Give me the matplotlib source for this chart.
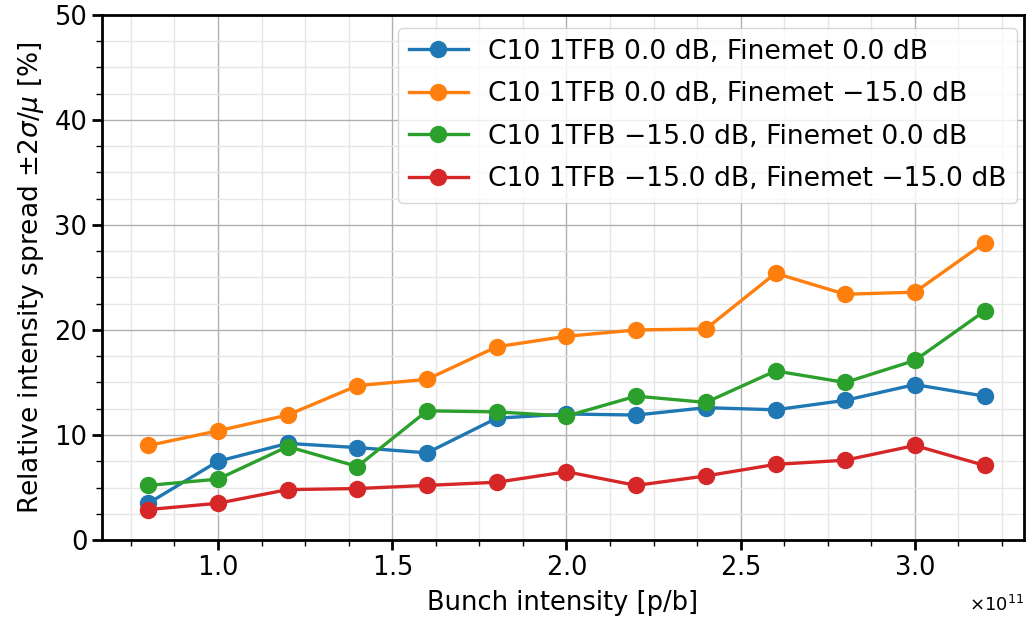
import numpy as np
import matplotlib
matplotlib.use("Agg")
import matplotlib.pyplot as plt
import matplotlib.transforms as mtransforms
from matplotlib.ticker import MultipleLocator

# bunch intensity [p/b]
intensity = np.array([0.8, 1.0, 1.2, 1.4, 1.6, 1.8, 2.0, 2.2, 2.4, 2.6, 2.8, 3.0, 3.2]) * 1e11

# relative intensity spread [%]
spread_0_0 = [3.5, 7.5, 9.2, 8.8, 8.3, 11.6, 12.0, 11.9, 12.6, 12.4, 13.3, 14.8, 13.7]
spread_0_15 = [9.0, 10.4, 11.9, 14.7, 15.3, 18.4, 19.4, 20.0, 20.1, 25.4, 23.4, 23.6, 28.3]
spread_15_0 = [5.2, 5.8, 8.9, 7.0, 12.3, 12.2, 11.8, 13.7, 13.1, 16.1, 15.0, 17.1, 21.8]
spread_15_15 = [2.9, 3.5, 4.8, 4.9, 5.2, 5.5, 6.5, 5.2, 6.1, 7.2, 7.6, 9.0, 7.1]

labels = [
    "C10 1TFB 0.0 dB, Finemet 0.0 dB",
    "C10 1TFB 0.0 dB, Finemet \u221215.0 dB",
    "C10 1TFB \u221215.0 dB, Finemet 0.0 dB",
    "C10 1TFB \u221215.0 dB, Finemet \u221215.0 dB",
]
series = [spread_0_0, spread_0_15, spread_15_0, spread_15_15]
colors = ["#1f77b4", "#ff7f0e", "#2ca02c", "#d62728"]

plt.rcParams["axes.linewidth"] = 2

fig = plt.figure(figsize=(10.26, 6.2), dpi=100)
ax = fig.add_axes([0.0994, 0.129, 0.8986, 0.847])

for y, lab, c in zip(series, labels, colors):
    ax.plot(intensity, y, "-o", color=c, lw=2.4, ms=11.5, label=lab)

ax.set_ylim(0, 50)
ax.set_xlim(0.667e11, 3.313e11)
ax.xaxis.set_major_locator(MultipleLocator(0.5e11))
ax.xaxis.set_minor_locator(MultipleLocator(0.125e11))
ax.yaxis.set_major_locator(MultipleLocator(10))
ax.yaxis.set_minor_locator(MultipleLocator(2.5))
ax.ticklabel_format(axis="x", useMathText=True)
ax.tick_params(which="major", length=7, width=2, labelsize=18.5)
ax.tick_params(which="minor", length=4, width=1)

# push the x10^11 offset a bit lower
off = ax.xaxis.get_offset_text()
off.set_fontsize(13)
off.set_transform(off.get_transform() + mtransforms.ScaledTranslation(0, -0.1, fig.dpi_scale_trans))

ax.grid(True, which="major", color="#b0b0b0", lw=1)
ax.grid(True, which="minor", color="#e6e6e6", lw=1)
ax.set_axisbelow(True)

ax.set_xlabel("Bunch intensity [p/b]", fontsize=18.5, labelpad=7)
ax.set_ylabel(r"Relative intensity spread $\pm 2\sigma/\mu$ [%]", fontsize=19, labelpad=6)
ax.legend(loc="upper right", bbox_to_anchor=(0.9924, 0.9752), borderaxespad=0,
          fontsize=19.2, handlelength=2.2, handletextpad=0.76, labelspacing=0.62)

fig.savefig("out.png", dpi=100)
